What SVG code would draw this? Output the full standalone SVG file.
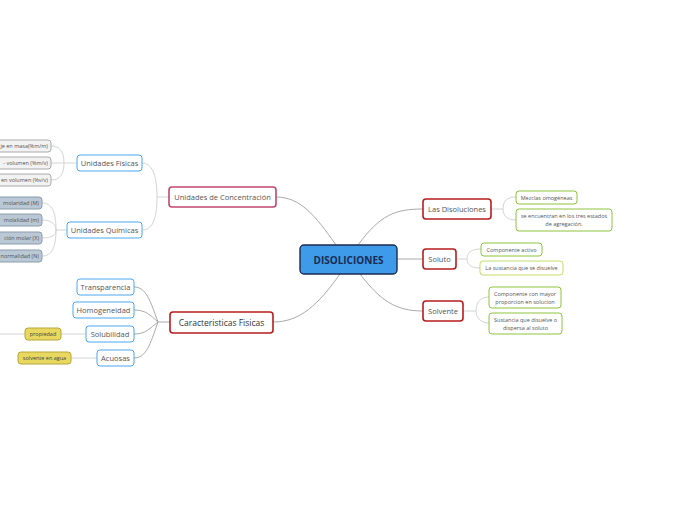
<svg xmlns="http://www.w3.org/2000/svg" width="697" height="520" viewBox="0 0 697 520">
<style>
text{font-family:"Open Sans","Noto Sans","DejaVu Sans",sans-serif;fill:#555;}
.t8{font-size:7.5px;}
.t6{font-size:5.5px;}
.c{fill:none;stroke:#aaa;stroke-width:1;}
.cl{fill:none;stroke:#d4d4d4;stroke-width:1;}
.red{fill:#fff;stroke:#b81c1c;stroke-width:1.6;}
.pink{fill:#fff;stroke:#c2466f;stroke-width:1.6;}
.blue{fill:#fff;stroke:#4aa8f0;stroke-width:1;}
.green{fill:#fff;stroke:#8cc43c;stroke-width:1;}
.gray{fill:#f2f2f2;stroke:#aaa;stroke-width:1;}
.bg{fill:#b9c8d4;stroke:#8c9cab;stroke-width:1;}
.yel{fill:#e8d860;stroke:#b5a63c;stroke-width:1;}
</style>
<rect width="697" height="520" fill="#fff"/>
<g id="connectors">
<path class="c" d="M358,245 C380,215 395,209 423,209"/>
<path class="c" d="M397,259 L423,259"/>
<path class="c" d="M360,274 C380,300 395,311 423,311"/>
<path class="c" d="M336,245 C315,215 300,197 276,197"/>
<path class="c" d="M340,274 C318,305 300,322 273,322"/>
<path class="cl" d="M491,209 L503,209 C503,200 508,197 516,197"/>
<path class="cl" d="M503,209 C503,216 508,220 516,220"/>
<path class="cl" d="M456,259 L467,259 C467,252 472,249 481,249"/>
<path class="cl" d="M467,259 C467,265 472,268 480,268"/>
<path class="cl" d="M463,311 L476,311 C476,302 481,297 489,297"/>
<path class="cl" d="M476,311 C476,318 481,323 489,323"/>
<path class="cl" d="M169,197 L157,197 C157,175 152,163 142,163"/>
<path class="cl" d="M157,197 C157,220 152,230 142,230"/>
<path class="cl" d="M77,163 L64,163 C64,152 60,146 51,146"/>
<path class="cl" d="M64,163 L51,163"/>
<path class="cl" d="M64,163 C64,174 60,180 51,180"/>
<path class="cl" d="M67,230 L56,230 C56,212 52,203 42,203"/>
<path class="cl" d="M56,230 C56,225 52,220 42,220"/>
<path class="cl" d="M56,230 C56,235 52,238 42,238"/>
<path class="cl" d="M56,230 C56,247 52,256 42,256"/>
<path class="c" d="M170,322 L158,322 C150,300 146,287 134,287"/>
<path class="c" d="M158,322 C150,315 146,310 134,310"/>
<path class="c" d="M158,322 C150,328 146,334 134,334"/>
<path class="c" d="M158,322 C150,345 146,358 134,358"/>
<path class="cl" d="M0,334 L25,334"/>
<path class="cl" d="M61,334 L86,334"/>
<path class="cl" d="M71,358 L97,358"/>
</g>
<g id="center">
<rect x="300" y="245" width="97" height="29" rx="4" fill="#3d9bea" stroke="#1b2b52" stroke-width="1.4"/>
<text x="348.5" y="263.5" text-anchor="middle" style="font-size:10px;font-weight:bold;fill:#1b2b52">DISOLICIONES</text>
</g>
<g id="las-disoluciones">
<rect class="red" x="423" y="199" width="68" height="20" rx="3"/>
<text class="t8" x="457" y="212" text-anchor="middle">Las Disoluciones</text>
</g>
<g id="mezclas">
<rect class="green" x="516" y="191" width="61" height="13" rx="3"/>
<text class="t6" x="546.5" y="199.5" text-anchor="middle">Mezclas omogéneas</text>
</g>
<g id="estados">
<rect class="green" x="516" y="209" width="96" height="22" rx="3"/>
<text class="t6" x="564" y="218" text-anchor="middle">se encuentran en los tres estados</text>
<text class="t6" x="564" y="226" text-anchor="middle">de agregación.</text>
</g>
<g id="soluto">
<rect class="red" x="423" y="249" width="33" height="20" rx="3"/>
<text class="t8" x="439.5" y="262" text-anchor="middle">Soluto</text>
</g>
<g id="componente-activo">
<rect class="green" x="481" y="243" width="61" height="13" rx="3"/>
<text class="t6" x="511.5" y="251.5" text-anchor="middle">Componente activo</text>
</g>
<g id="sustancia-disuelve">
<rect x="480" y="261" width="83" height="14" rx="3" fill="#fff" stroke="#c6dc6a" stroke-width="1"/>
<text class="t6" x="521.5" y="270" text-anchor="middle">La sustancia que se disuelve</text>
</g>
<g id="solvente">
<rect class="red" x="423" y="301" width="40" height="20" rx="3"/>
<text class="t8" x="443" y="314" text-anchor="middle">Solvente</text>
</g>
<g id="componente-mayor">
<rect class="green" x="489" y="287" width="72" height="21" rx="3"/>
<text class="t6" x="525" y="296" text-anchor="middle">Componente con mayor</text>
<text class="t6" x="525" y="304" text-anchor="middle">proporcion en solucion</text>
</g>
<g id="sustancia-dispersa">
<rect class="green" x="489" y="313" width="73" height="21" rx="3"/>
<text class="t6" x="525.5" y="322" text-anchor="middle">Sustancia que disuelve o</text>
<text class="t6" x="525.5" y="330" text-anchor="middle">dispersa al soluto</text>
</g>
<g id="unidades-concentracion">
<rect class="pink" x="169" y="187" width="107" height="20" rx="3"/>
<text class="t8" x="222.5" y="200" text-anchor="middle">Unidades de Concentración</text>
</g>
<g id="unidades-fisicas">
<rect class="blue" x="77" y="155" width="65" height="16" rx="3"/>
<text class="t8" x="109.5" y="166" text-anchor="middle">Unidades Físicas</text>
</g>
<g id="unidades-quimicas">
<rect class="blue" x="67" y="222" width="75" height="16" rx="3"/>
<text class="t8" x="104.5" y="233" text-anchor="middle">Unidades Químicas</text>
</g>
<g id="masa">
<rect class="gray" x="-20" y="140" width="71" height="12" rx="3"/>
<text class="t6" x="48" y="148" text-anchor="end">je en masa(%m/m)</text>
</g>
<g id="masa-volumen">
<rect class="gray" x="-20" y="157" width="71" height="12" rx="3"/>
<text class="t6" x="48" y="165" text-anchor="end">- volumen (%m/v)</text>
</g>
<g id="volumen">
<rect class="gray" x="-20" y="174" width="71" height="12" rx="3"/>
<text class="t6" x="48" y="182" text-anchor="end">en volumen (%v/v)</text>
</g>
<g id="molaridad">
<rect class="bg" x="-20" y="197" width="62" height="12" rx="3"/>
<text class="t6" x="39" y="205" text-anchor="end">molaridad (M)</text>
</g>
<g id="molalidad">
<rect class="bg" x="-20" y="214" width="62" height="12" rx="3"/>
<text class="t6" x="39" y="222" text-anchor="end">molalidad (m)</text>
</g>
<g id="fraccion">
<rect class="bg" x="-20" y="232" width="62" height="12" rx="3"/>
<text class="t6" x="39" y="240" text-anchor="end">ción molar (X)</text>
</g>
<g id="normalidad">
<rect class="bg" x="-20" y="250" width="62" height="12" rx="3"/>
<text class="t6" x="39" y="258" text-anchor="end">normalidad (N)</text>
</g>
<g id="caracteristicas">
<rect class="red" x="170" y="312" width="103" height="21" rx="3"/>
<text x="221.5" y="325.5" text-anchor="middle" style="font-size:8.5px;fill:#333">Caracteristicas Fisicas</text>
</g>
<g id="transparencia">
<rect class="blue" x="77" y="279" width="57" height="16" rx="3"/>
<text class="t8" x="105.5" y="290" text-anchor="middle">Transparencia</text>
</g>
<g id="homogeneidad">
<rect class="blue" x="73" y="302" width="61" height="16" rx="3"/>
<text class="t8" x="103.5" y="313" text-anchor="middle">Homogeneidad</text>
</g>
<g id="solubilidad">
<rect class="blue" x="86" y="326" width="48" height="16" rx="3"/>
<text class="t8" x="110" y="337" text-anchor="middle">Solubilidad</text>
</g>
<g id="acuosas">
<rect class="blue" x="97" y="350" width="37" height="16" rx="3"/>
<text class="t8" x="115.5" y="361" text-anchor="middle">Acuosas</text>
</g>
<g id="propiedad">
<rect class="yel" x="25" y="328" width="36" height="12" rx="3"/>
<text class="t6" x="43" y="336" text-anchor="middle" style="fill:#444">propiedad</text>
</g>
<g id="solvente-agua">
<rect class="yel" x="18" y="352" width="53" height="12" rx="3"/>
<text class="t6" x="44.5" y="360" text-anchor="middle" style="fill:#444">solvente en agua</text>
</g>
</svg>
